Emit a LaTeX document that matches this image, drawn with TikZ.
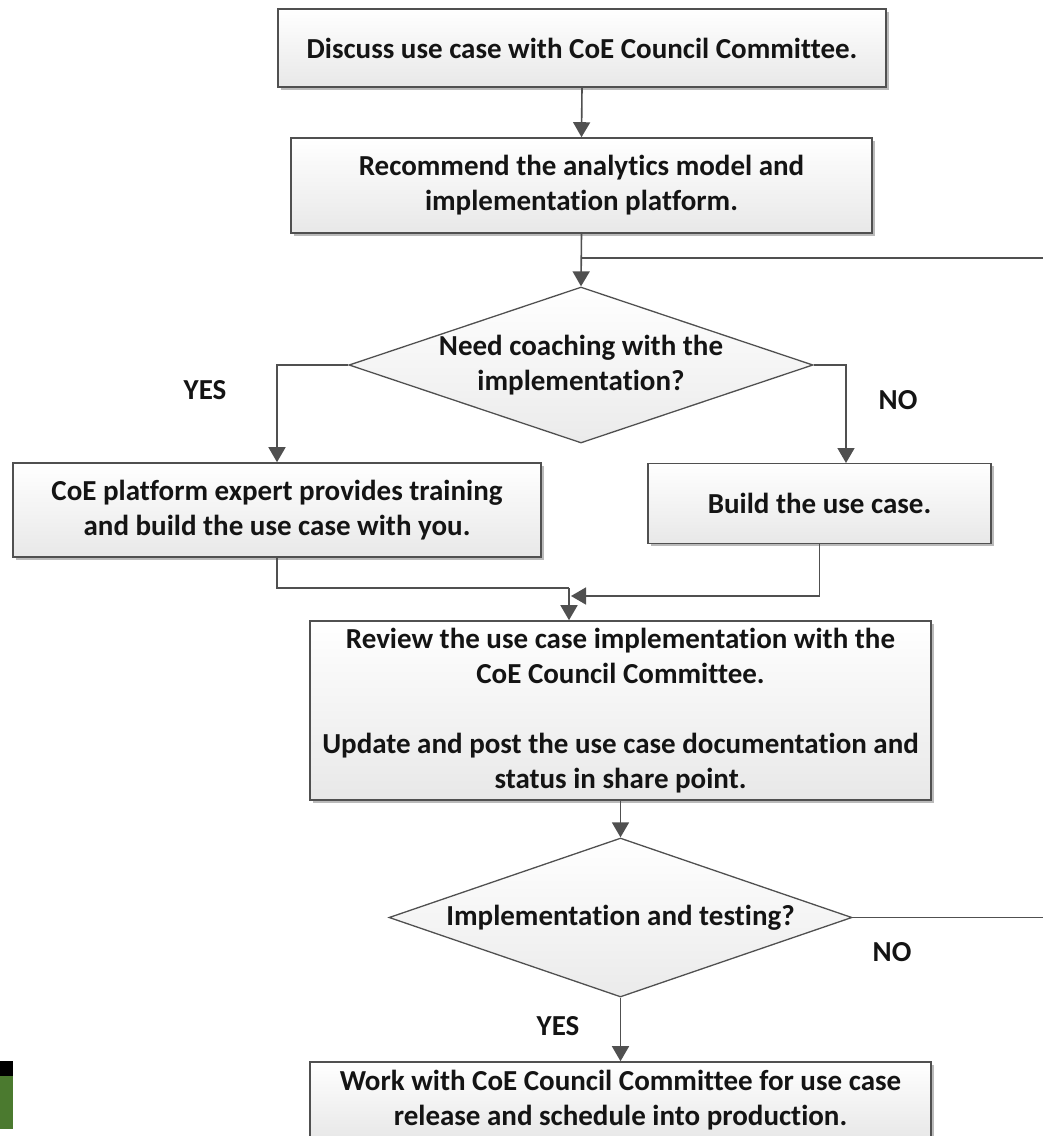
\documentclass[tikz,border=0pt]{standalone}
\usepackage{fontspec}
\setmainfont[Ligatures=NoCommon]{Carlito}
\usetikzlibrary{arrows.meta,shapes.geometric,shadows,calc}
\definecolor{lineg}{HTML}{505050}
\definecolor{leafg}{HTML}{4B7A2F}
\begin{document}
\begin{tikzpicture}[x=1pt,y=-1pt,
  txt/.style={font=\fontsize{29}{35}\selectfont\bfseries, align=center, text=black!92},
  box/.style={txt, draw=lineg, line width=1.6pt, top color=white, bottom color=black!9,
    inner sep=0pt, drop shadow={shadow xshift=2.5pt, shadow yshift=-2.5pt, fill=black!45, opacity=0.6}},
  decision/.style={txt, diamond, aspect=3, draw=lineg, line width=1.3pt, top color=white, bottom color=black!8, inner sep=0pt},
  conn/.style={draw=lineg, line width=1.6pt},
  arr/.style={conn, -{Triangle[width=17pt,length=15pt]}},
  lab/.style={txt}]
\useasboundingbox (0,0) rectangle (1043,1136);
\clip (0,0) rectangle (1043,1136);

\node[box, minimum width=608pt, minimum height=78pt] (b1) at (582,48) {Discuss use case with CoE Council Committee.};
\node[box, minimum width=581pt, minimum height=95pt] (b2) at (581.5,185.5) {Recommend the analytics model and\\implementation platform.};
\node[decision, minimum width=464pt, minimum height=156pt] (d1) at (581,365) {Need coaching with the\\implementation?};
\node[box, minimum width=528pt, minimum height=94pt] (b3) at (277,510) {CoE platform expert provides training\\and build the use case with you.};
\node[box, minimum width=343pt, minimum height=80pt] (b4) at (819.5,503.5) {Build the use case.};
\node[box, minimum width=621pt, minimum height=179pt] (b5) at (620.5,710.5) {Review the use case implementation with the\\CoE Council Committee.\\[35pt]Update and post the use case documentation and\\status in share point.};
\node[decision, minimum width=463pt, minimum height=159pt] (d2) at (620.5,917.5) {Implementation and testing?};
\node[box, minimum width=621pt, minimum height=76pt] (b6) at (620.5,1100) {Work with CoE Council Committee for use case\\release and schedule into production.};

\node[lab] (yes1) at (205,390) {YES};
\node[lab] (no1) at (898,400) {NO};
\node[lab] (no2) at (892,952) {NO};
\node[lab] (yes2) at (558,1026) {YES};

\coordinate (loopin) at (1043,258);
\coordinate (loopout) at (1043,917.5);
\coordinate (j1) at (569,588);
\coordinate (j2) at (571,596);
\coordinate (b4in) at (846,463);

\draw[arr] (b1.south) -- (b2.north);
\draw[arr] (b2.south) -- (d1.north);
\draw[conn] (loopin) -- (loopin -| b2.south);
\draw[arr] (d1.west) -| (b3.north);
\draw[arr] (d1.east) -| (b4in);
\draw[conn] (b3.south) |- (j1);
\draw[arr] (j1) -- (j1 |- b5.north);
\draw[arr] (b4.south) |- (j2);
\draw[arr] (b5.south) -- (d2.north);
\draw[arr] (d2.south) -- (b6.north);
\draw[conn] (d2.east) -- (loopout);

\fill[black] (0,1061) rectangle (13,1076);
\fill[leafg] (0,1076) rectangle (13,1129);
\end{tikzpicture}
\end{document}
